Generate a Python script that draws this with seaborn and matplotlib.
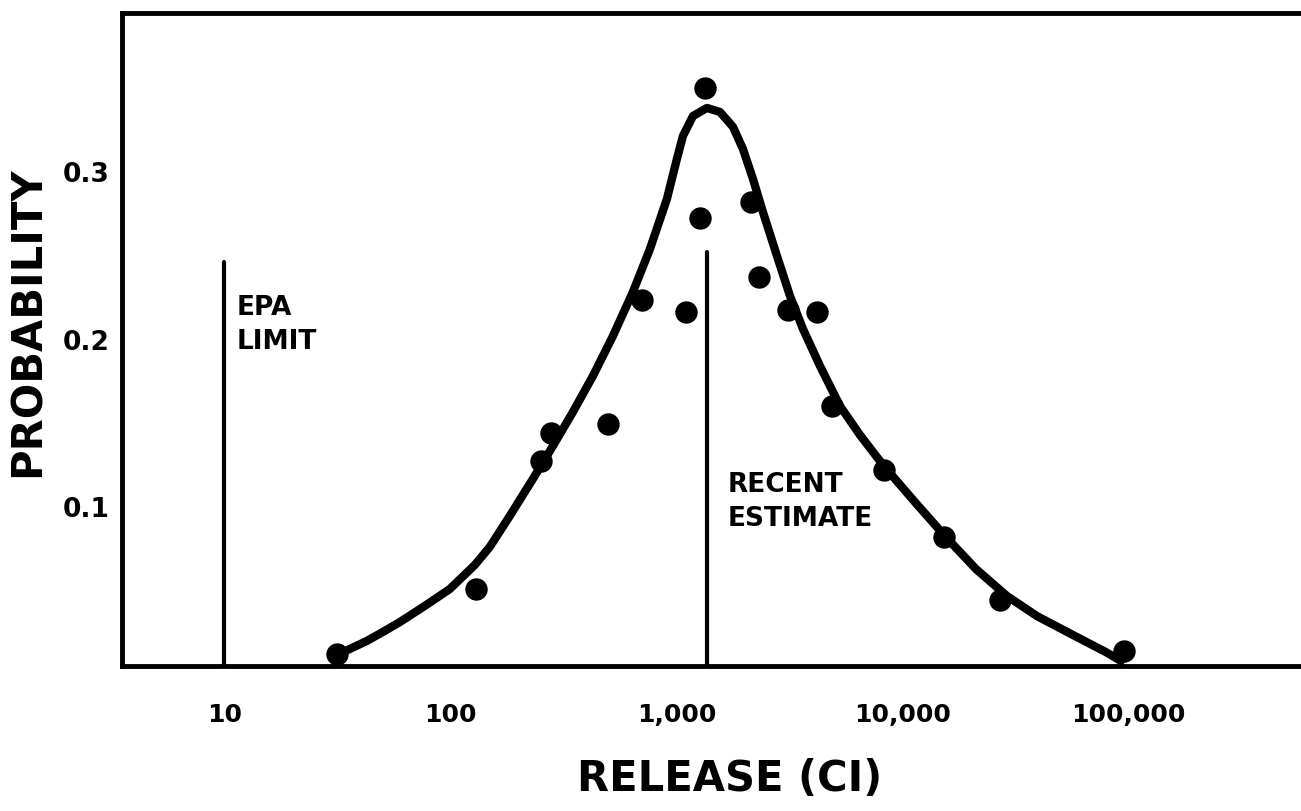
import numpy as np
import pandas as pd
import seaborn as sns
from matplotlib import pyplot as plt

# observed points (release in Ci, probability)
release = [31.4, 130, 251, 278, 498, 704, 1102, 1271, 1339, 2140, 2321,
           3120, 4190, 4883, 8300, 15280, 27000, 95700]
prob = [0.012, 0.051, 0.127, 0.144, 0.149, 0.223, 0.216, 0.272, 0.350,
        0.282, 0.237, 0.217, 0.216, 0.160, 0.122, 0.082, 0.044, 0.014]

# fitted curve
curve_x = [31.4, 35.8, 42.6, 50.2, 59.7, 76.9, 99.3, 128.2, 149.3, 183.0,
           231.6, 284.2, 348.5, 427.3, 524.1, 642.6, 764.1, 908.6, 1006,
           1070, 1185, 1366, 1560, 1781, 1972, 2184, 2417, 2788, 3185, 3634,
           4323, 5300, 6497, 8286, 11370, 15440, 21180, 29050, 39440, 58080,
           79650, 92840]
curve_y = [0.0113, 0.0149, 0.0197, 0.0251, 0.0310, 0.0406, 0.0507, 0.0651,
           0.0758, 0.0943, 0.1164, 0.1361, 0.1564, 0.1779, 0.2018, 0.2281,
           0.2537, 0.2836, 0.3075, 0.3212, 0.3331, 0.3379, 0.3355, 0.3266,
           0.3134, 0.2955, 0.2758, 0.2496, 0.2257, 0.2060, 0.1839, 0.1600,
           0.1427, 0.1242, 0.1027, 0.0824, 0.0627, 0.0466, 0.0346, 0.0227,
           0.0131, 0.0078]

epa_limit = 10
recent_estimate = 1365
xticks = [10, 100, 1000, 10000, 100000]
xtick_labels = ["10", "100", "1,000", "10,000", "100,000"]
yticks = [0.1, 0.2, 0.3]

sns.set_style("white")
plt.rcParams['font.family'] = ['DejaVu Sans']
plt.rcParams['font.weight'] = 'bold'
plt.rcParams['text.color'] = 'black'
plt.rcParams['axes.labelcolor'] = 'black'
plt.rcParams['xtick.color'] = 'black'
plt.rcParams['ytick.color'] = 'black'

fig = plt.figure(figsize=(13.01, 8.12), dpi=100)
ax = fig.add_axes([0.0938, 0.1786, 0.9062, 0.8042])

points = pd.DataFrame({"release": release, "prob": prob})
curve = pd.DataFrame({"release": curve_x, "prob": curve_y})

sns.lineplot(data=curve, x="release", y="prob", sort=False, estimator=None,
             color="black", linewidth=6, ax=ax, solid_capstyle="round",
             solid_joinstyle="round")
sns.scatterplot(data=points, x="release", y="prob", color="black", s=260,
                edgecolor="black", linewidth=0, ax=ax, zorder=3)

ax.plot([epa_limit, epa_limit], [0, 0.246], color="black", lw=3,
        solid_capstyle="round")
ax.plot([recent_estimate, recent_estimate], [0, 0.252], color="black", lw=3,
        solid_capstyle="round")

ax.text(11.3, 0.2269, "EPA\nLIMIT", fontsize=19, fontweight="bold",
        va="top", ha="left", linespacing=1.4)
ax.text(1692, 0.1212, "RECENT\nESTIMATE", fontsize=19, fontweight="bold",
        va="top", ha="left", linespacing=1.4)

ax.set_xscale("log")
ax.set_xlim(3.52, 582000)
ax.set_ylim(0.0048, 0.3946)
ax.set_xticks(xticks)
ax.set_xticklabels(xtick_labels)
ax.minorticks_off()
ax.set_yticks(yticks)
ax.set_yticklabels(["0.1", "0.2", "0.3"])

ax.tick_params(axis="x", direction="in", length=8, width=3, pad=26,
               labelsize=18)
ax.tick_params(axis="y", direction="in", length=8, width=3, pad=9,
               labelsize=19)
for lab in ax.get_xticklabels() + ax.get_yticklabels():
    lab.set_fontweight("bold")

for side in ["left", "bottom", "top"]:
    ax.spines[side].set_linewidth(3.5)
    ax.spines[side].set_color("black")
ax.spines["right"].set_visible(False)

ax.set_xlabel("RELEASE (CI)", fontsize=30, fontweight="bold")
ax.set_ylabel("PROBABILITY", fontsize=30, fontweight="bold")
ax.xaxis.set_label_coords(0.515, -0.139)
ax.yaxis.set_label_coords(-0.062, 0.528)

fig.savefig("out.png", dpi=100)
